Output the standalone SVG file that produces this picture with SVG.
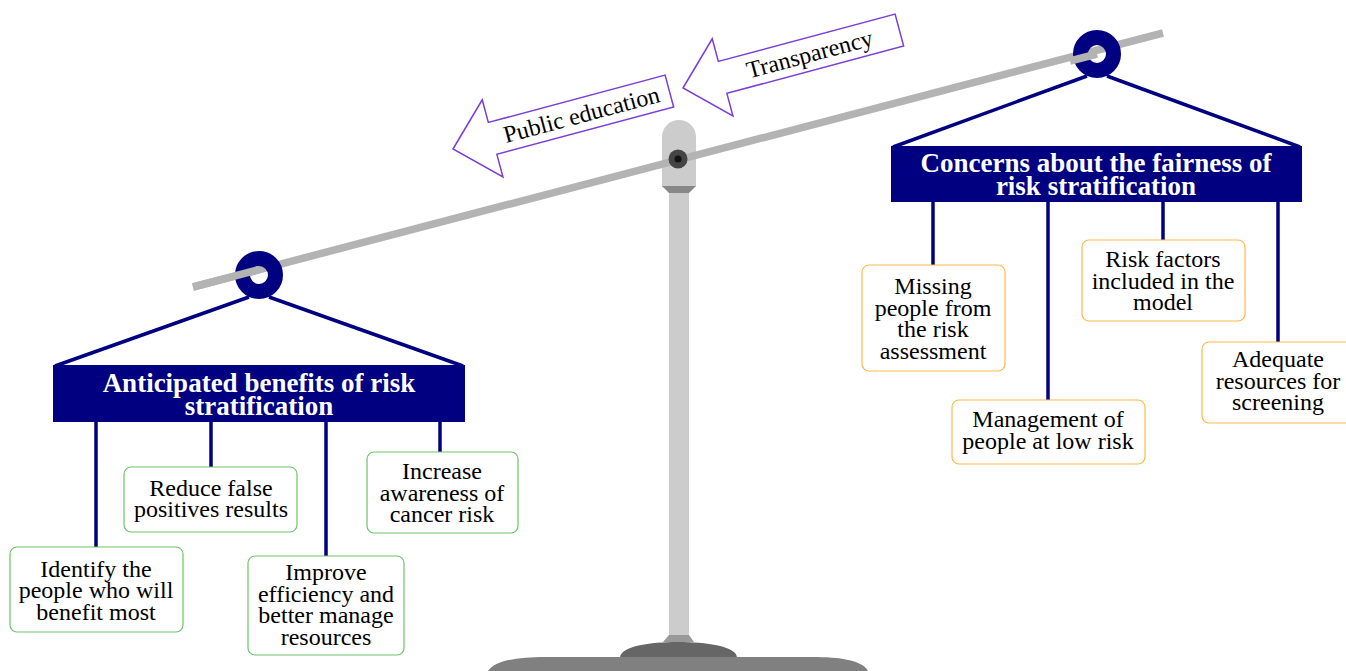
<svg xmlns="http://www.w3.org/2000/svg" width="1346" height="671" viewBox="0 0 1346 671">
<style>
.t{font-family:"Liberation Serif","Times New Roman",serif;font-size:24px;fill:#000;text-anchor:middle}
.h{font-family:"Liberation Serif","Times New Roman",serif;font-size:27px;font-weight:bold;fill:#fff;text-anchor:middle}
.g{fill:#fff;stroke:#6cc36c;stroke-width:1.2}
.o{fill:#fff;stroke:#ffb84d;stroke-width:1.2}
.c{stroke:#000080;stroke-width:3.5;fill:none}
.arr{fill:#fff;stroke:#7b3fd9;stroke-width:1.5}
.beam{stroke:#b3b3b3;stroke-width:7.5;stroke-linecap:butt}
.ring{fill:none;stroke:#000080;stroke-width:15}
</style>
<rect width="1346" height="671" fill="#fff"/>
<g id="stand">
<path d="M662,187 V137 A17,17 0 0 1 696,137 V187 Z" fill="#cccccc"/>
<path d="M662,186 H696 L689,193 H669 Z" fill="#888888"/>
<rect x="669" y="193" width="20" height="442" fill="#cccccc"/>
<path d="M669,635 H689 L694,642 H663 Z" fill="#999999"/>
<path d="M620,658 C620,646 650,642 678,642 C706,642 737,646 737,658 Z" fill="#666666"/>
<path d="M488,671 C495,660 520,657 545,657 H812 C840,657 862,660 868,671 Z" fill="#808080"/>
</g>
<g id="arrows">
<g id="arrow-public" transform="translate(453,149) rotate(-15)">
<polygon class="arr" points="0,0 41,-40 41,-16.5 224,-16.5 224,16.5 41,16.5 41,40"/>
<text class="t" x="133" y="8">Public education</text>
</g>
<g id="arrow-transparency" transform="translate(683,88) rotate(-15)">
<polygon class="arr" points="0,0 41,-40 41,-16.5 224,-16.5 224,16.5 41,16.5 41,40"/>
<text class="t" x="131" y="8">Transparency</text>
</g>
</g>
<g id="beam">
<line class="beam" x1="193" y1="287" x2="1163" y2="33"/>
</g>
<g id="pivot">
<circle cx="678" cy="159" r="9.5" fill="#444444"/>
<circle cx="678" cy="159" r="3.5" fill="#111111"/>
</g>
<g id="connectors">
<path class="c" d="M249,297 L55,366 M269,297 L463,366"/>
<path class="c" d="M1087,76 L893,147 M1107,76 L1300,147"/>
<path class="c" d="M96,422 V547 M211,422 V467 M326,422 V556 M440,422 V452"/>
<path class="c" d="M933,202 V265 M1048,202 V400 M1163,202 V240 M1278,202 V342"/>
</g>
<g id="rings">
<circle class="ring" cx="259" cy="275" r="16.5"/>
<circle class="ring" cx="1097" cy="54" r="16.5"/>
<line class="beam" x1="193" y1="287" x2="259" y2="269.7"/>
<line class="beam" x1="1070" y1="61" x2="1097" y2="54"/>
</g>
<g id="header-left">
<rect x="53" y="365" width="412" height="57" fill="#000080"/>
<text class="h" x="259" y="392">Anticipated benefits of risk</text>
<text class="h" x="259" y="415">stratification</text>
</g>
<g id="header-right">
<rect x="891" y="146" width="411" height="56" fill="#000080"/>
<text class="h" x="1096" y="172">Concerns about the fairness of</text>
<text class="h" x="1096" y="195">risk stratification</text>
</g>
<g id="identify">
<rect class="g" x="10" y="547" width="173" height="85" rx="7"/>
<text class="t" x="96" y="576.5">Identify the</text>
<text class="t" x="96" y="598">people who will</text>
<text class="t" x="96" y="619.5">benefit most</text>
</g>
<g id="reduce">
<rect class="g" x="124" y="467" width="173" height="65" rx="7"/>
<text class="t" x="211" y="495.5">Reduce false</text>
<text class="t" x="211" y="517">positives results</text>
</g>
<g id="improve">
<rect class="g" x="248" y="556" width="156" height="99" rx="7"/>
<text class="t" x="326" y="580">Improve</text>
<text class="t" x="326" y="601.5">efficiency and</text>
<text class="t" x="326" y="623">better manage</text>
<text class="t" x="326" y="644.5">resources</text>
</g>
<g id="increase">
<rect class="g" x="367" y="452" width="151" height="81" rx="7"/>
<text class="t" x="442" y="479">Increase</text>
<text class="t" x="442" y="500.5">awareness of</text>
<text class="t" x="442" y="522">cancer risk</text>
</g>
<g id="missing">
<rect class="o" x="862" y="265" width="143" height="106" rx="7"/>
<text class="t" x="933" y="294">Missing</text>
<text class="t" x="933" y="315.5">people from</text>
<text class="t" x="933" y="337">the risk</text>
<text class="t" x="933" y="358.5">assessment</text>
</g>
<g id="management">
<rect class="o" x="952" y="400" width="193" height="64" rx="7"/>
<text class="t" x="1048" y="427">Management of</text>
<text class="t" x="1048" y="448.5">people at low risk</text>
</g>
<g id="riskfactors">
<rect class="o" x="1082" y="240" width="163" height="81" rx="7"/>
<text class="t" x="1163" y="267">Risk factors</text>
<text class="t" x="1163" y="288.5">included in the</text>
<text class="t" x="1163" y="310">model</text>
</g>
<g id="adequate">
<rect class="o" x="1202" y="342" width="160" height="81" rx="7"/>
<text class="t" x="1278" y="367">Adequate</text>
<text class="t" x="1278" y="388.5">resources for</text>
<text class="t" x="1278" y="410">screening</text>
</g>
</svg>
